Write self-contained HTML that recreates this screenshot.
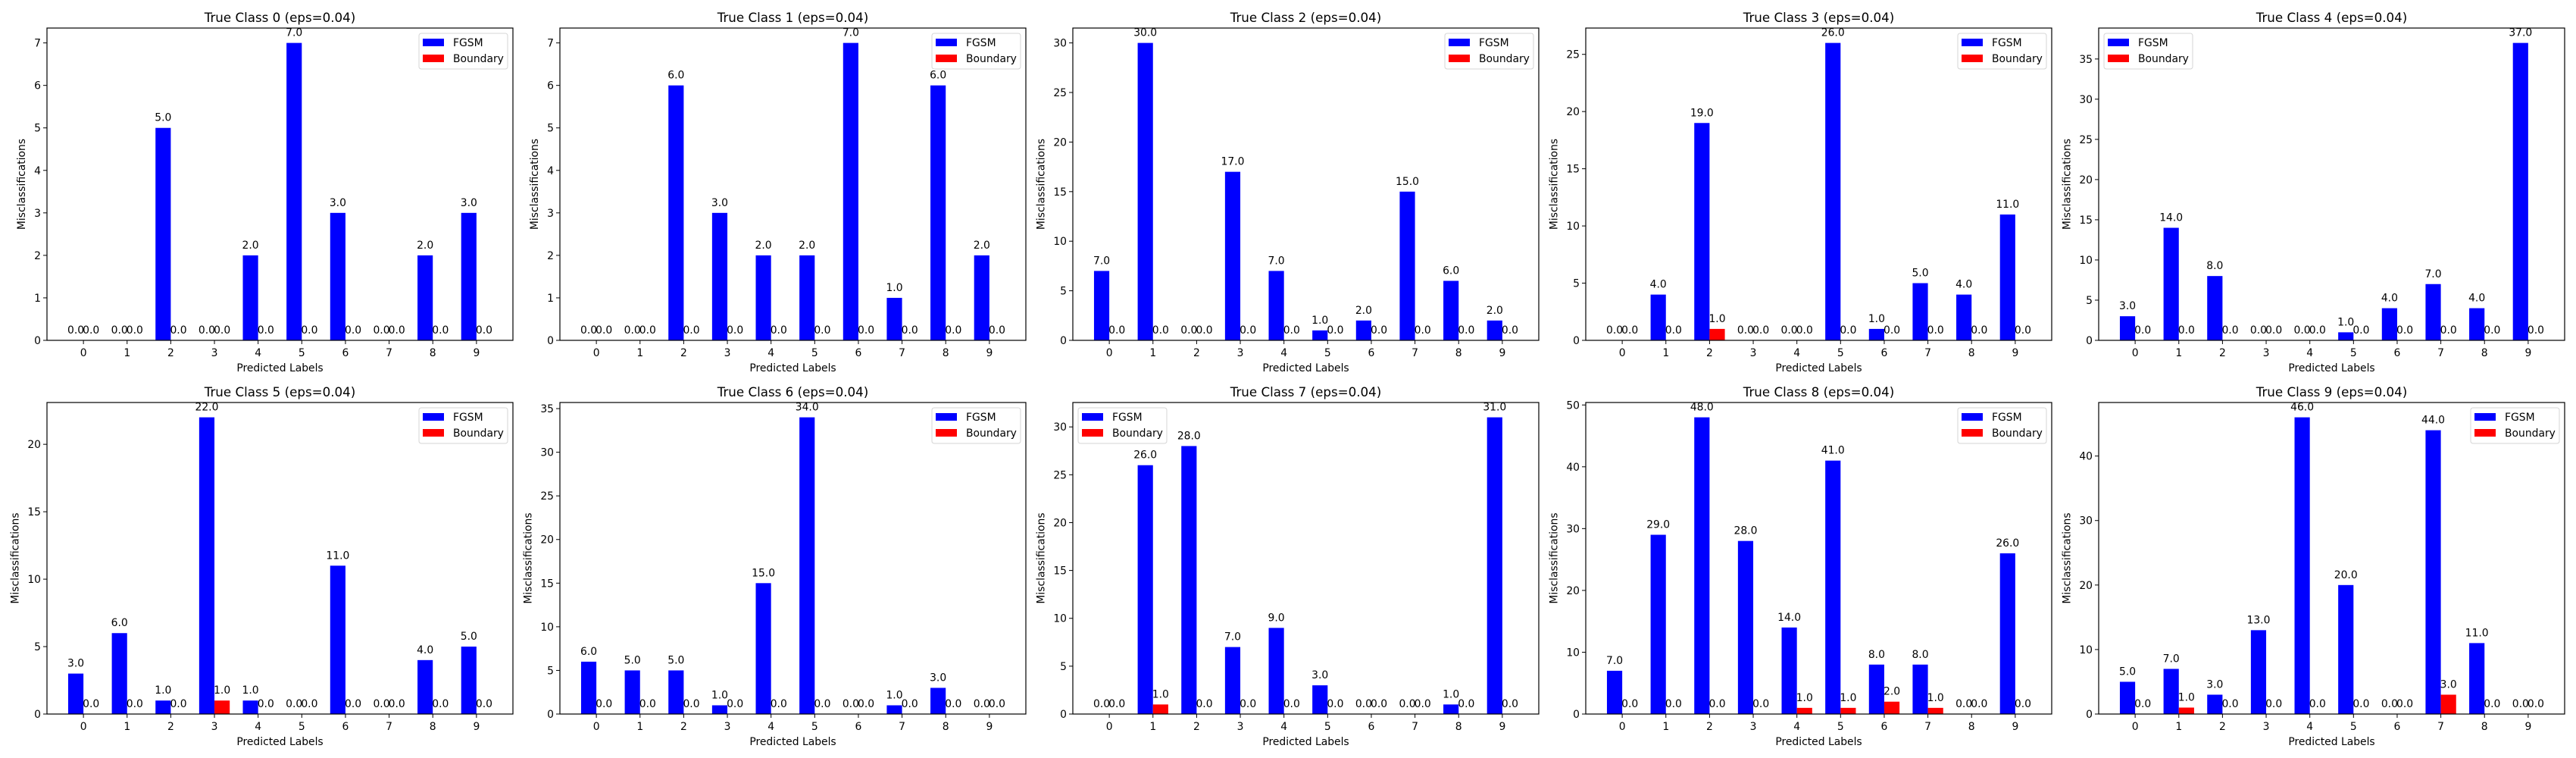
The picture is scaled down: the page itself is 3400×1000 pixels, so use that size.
<!DOCTYPE html>
<html><head><meta charset="utf-8">
<style>
html,body{margin:0;padding:0;background:#fff;}
svg{display:block;font-family:"DejaVu Sans","Liberation Sans",sans-serif;}
</style></head>
<body>
<svg id="fig" width="3400" height="1000" viewBox="0 0 3400 1000" xmlns="http://www.w3.org/2000/svg"></svg>
<script>
const categories = ['0','1','2','3','4','5','6','7','8','9'];
const fgsm0 = [0,0,5,0,2,7,3,0,2,3];
const fgsm1 = [0,0,6,3,2,2,7,1,6,2];
const fgsm2 = [7,30,0,17,7,1,2,15,6,2];
const fgsm3 = [0,4,19,0,0,26,1,5,4,11];
const fgsm4 = [3,14,8,0,0,1,4,7,4,37];
const fgsm5 = [3,6,1,22,1,0,11,0,4,5];
const fgsm6 = [6,5,5,1,15,34,0,1,3,0];
const fgsm7 = [0,26,28,7,9,3,0,0,1,31];
const fgsm8 = [7,29,48,28,14,41,8,8,0,26];
const fgsm9 = [5,7,3,13,46,20,0,44,11,0];
const boundary0 = [0,0,0,0,0,0,0,0,0,0];
const boundary1 = [0,0,0,0,0,0,0,0,0,0];
const boundary2 = [0,0,0,0,0,0,0,0,0,0];
const boundary3 = [0,0,1,0,0,0,0,0,0,0];
const boundary4 = [0,0,0,0,0,0,0,0,0,0];
const boundary5 = [0,0,0,1,0,0,0,0,0,0];
const boundary6 = [0,0,0,0,0,0,0,0,0,0];
const boundary7 = [0,1,0,0,0,0,0,0,0,0];
const boundary8 = [0,0,0,0,1,1,2,1,0,0];
const boundary9 = [0,1,0,0,0,0,0,3,0,0];
const yTicks0 = [0,1,2,3,4,5,6,7];
const yTicks1 = [0,1,2,3,4,5,6,7];
const yTicks2 = [0,5,10,15,20,25,30];
const yTicks3 = [0,5,10,15,20,25];
const yTicks4 = [0,5,10,15,20,25,30,35];
const yTicks5 = [0,5,10,15,20];
const yTicks6 = [0,5,10,15,20,25,30,35];
const yTicks7 = [0,5,10,15,20,25,30];
const yTicks8 = [0,10,20,30,40,50];
const yTicks9 = [0,10,20,30,40];
const legendLoc = ['right','right','right','right','left','right','right','left','right','right'];

const FG=[fgsm0,fgsm1,fgsm2,fgsm3,fgsm4,fgsm5,fgsm6,fgsm7,fgsm8,fgsm9];
const BD=[boundary0,boundary1,boundary2,boundary3,boundary4,boundary5,boundary6,boundary7,boundary8,boundary9];
const YT=[yTicks0,yTicks1,yTicks2,yTicks3,yTicks4,yTicks5,yTicks6,yTicks7,yTicks8,yTicks9];

const NS='http://www.w3.org/2000/svg';
const svg=document.getElementById('fig');
function mk(tag,attrs,parent,text){const e=document.createElementNS(NS,tag);for(const k in attrs)e.setAttribute(k,attrs[k]);if(text!==undefined)e.textContent=text;(parent||svg).appendChild(e);return e;}

const W=615, PITCH=677, L0=62;
const ROWS=[{top:37,bot:449},{top:531,bot:942}];
const BW=0.35;
for(let s=0;s<10;s++){
  const r=Math.floor(s/5), c=s%5;
  const left=L0+c*PITCH, right=left+W, top=ROWS[r].top, bot=ROWS[r].bot, H=bot-top;
  const g=mk('g',{});
  
  
  const f=FG[s], b=BD[s];
  const ymax=Math.max(...f,...b)*1.05;
  const xmin=-BW-0.05*(9+2*BW), xmax=9+BW+0.05*(9+2*BW);
  const X=v=>left+(v-xmin)/(xmax-xmin)*W;
  const Y=v=>bot-v/ymax*H;
  // bars
  for(let i=0;i<10;i++){
    const x0=X(i-BW), x1=X(i), x2=X(i+BW);
    const rb=mk('rect',{x:x0,y:Y(f[i]),width:x1-x0,height:bot-Y(f[i]),fill:'#0000ff'},g);
    
    
    const rr=mk('rect',{x:x1,y:Y(b[i]),width:x2-x1,height:bot-Y(b[i]),fill:'#ff0000'},g);
    
    
    const t1=mk('text',{x:(x0+x1)/2,y:Y(f[i])-9,'font-size':'13.9','text-anchor':'middle'},g,f[i].toFixed(1));
    
    
    const t2=mk('text',{x:(x1+x2)/2,y:Y(b[i])-9,'font-size':'13.9','text-anchor':'middle'},g,b[i].toFixed(1));
    
    
  }
  // frame
  const fr=mk('rect',{x:left,y:top,width:W,height:H,fill:'none',stroke:'#000','stroke-width':1.2},g);
  
  
  // x ticks
  for(let i=0;i<10;i++){
    mk('line',{x1:X(i),x2:X(i),y1:bot,y2:bot+5,stroke:'#000','stroke-width':1},g);
    const t=mk('text',{x:X(i),y:bot+21,'font-size':'13.9','text-anchor':'middle'},g,categories[i]);
    
    
  }
  // y ticks
  let maxw=0;
  YT[s].forEach(v=>{
    mk('line',{x1:left-5,x2:left,y1:Y(v),y2:Y(v),stroke:'#000','stroke-width':1},g);
    const t=mk('text',{x:left-8,y:Y(v)+5,'font-size':'13.9','text-anchor':'end'},g,String(v));
    
    
    maxw=Math.max(maxw,String(v).length*8.8);
  });
  const yl=left-8-maxw-12;
  const ylab=mk('text',{x:0,y:0,'font-size':'13.9','text-anchor':'middle',transform:`translate(${yl},${(top+bot)/2}) rotate(-90)`},g,'Misclassifications');
  
  
  const xlab=mk('text',{x:left+W/2,y:bot+41,'font-size':'13.9','text-anchor':'middle'},g,'Predicted Labels');
  
  
  const ti=mk('text',{x:left+W/2,y:top-8,'font-size':'16.7','text-anchor':'middle'},g,'True Class '+s+' (eps=0.04)');
  
  
  // legend
  const lx = legendLoc[s]==='right' ? right-7-117 : left+7;
  const lg=mk('g',{},g);
  
  
  mk('rect',{x:lx,y:top+7,width:117,height:47,rx:3,fill:'#fff',stroke:'#d5d5d5','stroke-width':1},lg);
  mk('rect',{x:lx+5,y:top+14,width:28,height:10,fill:'#0000ff'},lg);
  const e1=mk('text',{x:lx+45,y:top+24,'font-size':'13.9'},lg,'FGSM');
  
  
  mk('rect',{x:lx+5,y:top+35,width:28,height:10,fill:'#ff0000'},lg);
  const e2=mk('text',{x:lx+45,y:top+45,'font-size':'13.9'},lg,'Boundary');
  
  
}
</script>
</body></html>
